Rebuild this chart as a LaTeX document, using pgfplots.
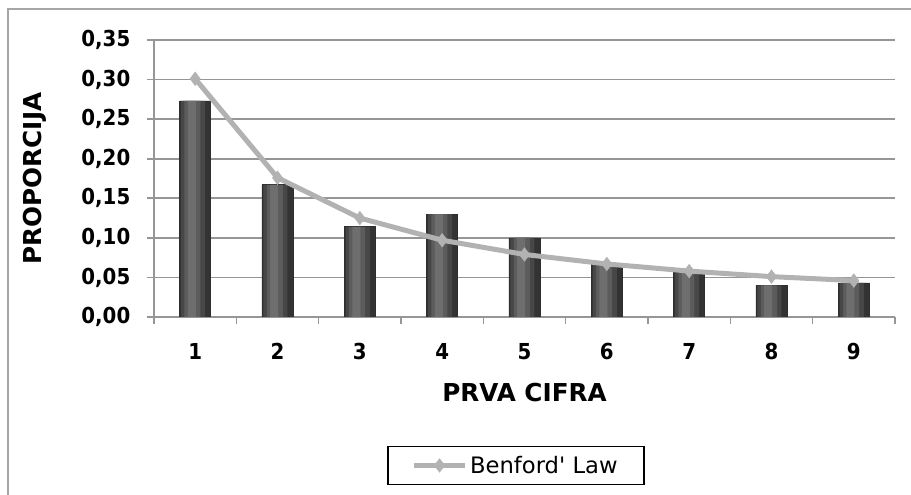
\documentclass[border=0pt]{standalone}
\usepackage{fontspec}
\setmainfont{DejaVu Sans}
\newfontfamily\condfont{DejaVu Sans Condensed}
\usepackage{pgfplots}
\usepackage{pgfplotstable}
\pgfplotsset{compat=1.18}
\definecolor{benford}{RGB}{178,178,178}
\definecolor{gridc}{RGB}{150,150,150}

% first digit proportions: observed (bars) and Benford's law (line)
\pgfplotstableread{
digit observed benford
1 0.273 0.301
2 0.167 0.176
3 0.114 0.125
4 0.130 0.097
5 0.100 0.079
6 0.068 0.067
7 0.056 0.058
8 0.040 0.051
9 0.043 0.046
}\datatable

\begin{document}
\begin{tikzpicture}
\useasboundingbox (0,0) rectangle (683.25pt,371.25pt);
% outer chart frame (only top and left are visible)
\draw[black!35, line width=1.2pt] (6pt,0) -- (6pt,364.5pt) -- (683.25pt,364.5pt);
\begin{axis}[
    at={(115.5pt,133.5pt)}, anchor=south west,
    scale only axis,
    width=555.75pt, height=207.75pt,
    xmin=0.5, xmax=9.5,
    ymin=0, ymax=0.35,
    axis lines*=left,
    axis line style={gridc, line width=1.2pt},
    xtick={1,...,9},
    xticklabels={1,2,3,4,5,6,7,8,9},
    minor xtick={0.5,1.5,2.5,3.5,4.5,5.5,6.5,7.5,8.5,9.5},
    major x tick style={draw=none},
    ytick={0,0.05,0.10,0.15,0.20,0.25,0.30,0.35},
    tick align=outside,
    major tick length=5.25pt,
    minor tick length=5.25pt,
    tick style={gridc, line width=1.2pt},
    ymajorgrids,
    grid style={gridc, line width=1.2pt},
    /pgf/number format/.cd, fixed, fixed zerofill, precision=2, use comma, assume math mode=true,
    /pgfplots/.cd,
    xticklabel style={font=\fontsize{16.5}{18}\selectfont\condfont\bfseries, yshift=-11pt},
    yticklabel style={font=\fontsize{16.5}{18}\selectfont\condfont\bfseries, xshift=-9pt},
    xlabel={PRVA CIFRA},
    ylabel={PROPORCIJA},
    xlabel style={font=\fontsize{18.5}{21}\selectfont\bfseries, at={(axis description cs:0.5,-0.2744)}, anchor=center},
    ylabel style={font=\fontsize{18.5}{21}\selectfont\bfseries, at={(axis description cs:-0.1606,0.5)}, anchor=center},
    legend style={at={(axis description cs:0.4885,-0.536)}, anchor=center,
        draw=black, line width=1.2pt, font=\fontsize{17}{19}\selectfont,
        inner xsep=18pt, inner ysep=5pt},
    legend image code/.code={
        \draw[mark repeat=2,mark phase=2,#1] plot coordinates {(0pt,0pt) (19pt,0pt) (38pt,0pt)};
    },
]
% bars drawn in layers to imitate the bevelled 3-D look
\addplot[ybar, bar shift=0pt, bar width=23.25pt, draw=black!82, line width=0.5pt,
    fill=black!80, forget plot] table[x=digit, y=observed] {\datatable};
\addplot[ybar, bar shift=-1.5pt, bar width=18pt, draw=none,
    fill=black!72, forget plot] table[x=digit, y=observed] {\datatable};
\addplot[ybar, bar shift=-2pt, bar width=12pt, draw=none,
    fill=black!64, forget plot] table[x=digit, y=observed] {\datatable};
\addplot[ybar, bar shift=-2.5pt, bar width=6pt, draw=none,
    fill=black!57, forget plot] table[x=digit, y=observed] {\datatable};
\addplot[benford, line width=3.75pt, mark=diamond*, mark size=5pt,
    mark options={benford, line width=0.5pt}]
    table[x=digit, y=benford] {\datatable};
\addlegendentry{Benford\textquotesingle{} Law}
\end{axis}
\end{tikzpicture}
\end{document}
